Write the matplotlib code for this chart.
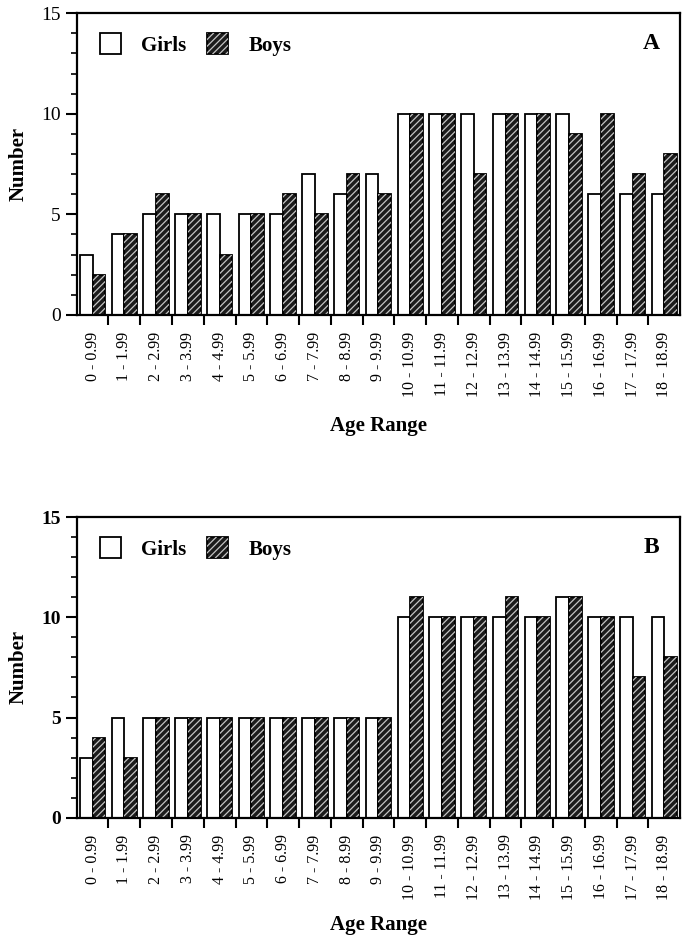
import numpy as np
import matplotlib
matplotlib.use('Agg')
import matplotlib.pyplot as plt
from matplotlib.legend_handler import HandlerTuple

plt.rcParams['font.family'] = ['Liberation Serif', 'DejaVu Serif']
plt.rcParams['hatch.linewidth'] = 0.9

ages = ['0 - 0.99', '1 - 1.99', '2 - 2.99', '3 - 3.99', '4 - 4.99', '5 - 5.99',
        '6 - 6.99', '7 - 7.99', '8 - 8.99', '9 - 9.99', '10 - 10.99', '11 - 11.99',
        '12 - 12.99', '13 - 13.99', '14 - 14.99', '15 - 15.99', '16 - 16.99',
        '17 - 17.99', '18 - 18.99']

girls_a = [3, 4, 5, 5, 5, 5, 5, 7, 6, 7, 10, 10, 10, 10, 10, 10, 6, 6, 6]
boys_a = [2, 4, 6, 5, 3, 5, 6, 5, 7, 6, 10, 10, 7, 10, 10, 9, 10, 7, 8]

girls_b = [3, 5, 5, 5, 5, 5, 5, 5, 5, 5, 10, 10, 10, 10, 10, 11, 10, 10, 10]
boys_b = [4, 3, 5, 5, 5, 5, 5, 5, 5, 5, 11, 10, 10, 11, 10, 11, 10, 7, 8]

fig = plt.figure(figsize=(6.85, 9.40), dpi=100)
ax_a = fig.add_axes([0.112, 0.665, 0.881, 0.321])
ax_b = fig.add_axes([0.112, 0.130, 0.881, 0.320])


def panel(ax, girls, boys, letter, bold_ticks, xlabel_pad):
    x = np.arange(len(ages))
    w = 0.4
    g = ax.bar(x - w / 2, girls, w, facecolor='white', edgecolor='black', linewidth=1.3)
    b = ax.bar(x + w / 2, boys, w, facecolor='#1c1c1c', edgecolor='black', linewidth=1.3)
    h = ax.bar(x + w / 2, boys, w, facecolor='none', edgecolor='#c4c4c4',
               hatch='/////', linewidth=0)

    ax.set_xlim(-0.5, len(ages) - 0.5)
    ax.set_ylim(0, 15)
    ax.set_xticks(x)
    ax.set_xticklabels(ages, rotation=90, fontsize=11.5)
    ax.set_xticks(np.arange(len(ages) - 1) + 0.5, minor=True)
    ax.tick_params(axis='x', which='major', length=0, pad=12)
    ax.tick_params(axis='x', which='minor', length=7, width=1.5, direction='out')

    ax.set_yticks([0, 5, 10, 15])
    ax.set_yticks(np.arange(0, 16), minor=True)
    ax.tick_params(axis='y', which='major', length=8, width=1.5, labelsize=14)
    ax.tick_params(axis='y', which='minor', length=4, width=1.2)
    if bold_ticks:
        for t in ax.get_yticklabels():
            t.set_fontweight('bold')

    for s in ax.spines.values():
        s.set_linewidth(1.6)

    ax.set_ylabel('Number', fontsize=15, fontweight='bold', labelpad=9)
    ax.set_xlabel('Age Range', fontsize=15, fontweight='bold', labelpad=xlabel_pad)
    ax.text(0.952, 0.9, letter, transform=ax.transAxes, fontsize=17,
            fontweight='bold', ha='center', va='center')

    ax.legend([g, (b, h)], ['Girls', 'Boys'], ncol=2, loc='upper left',
              bbox_to_anchor=(0.007, 0.996), frameon=False,
              prop={'weight': 'bold', 'size': 15},
              handlelength=1.0, handleheight=1.2, handletextpad=1.0,
              columnspacing=1.0,
              handler_map={tuple: HandlerTuple(ndivide=1, pad=0)})


panel(ax_a, girls_a, boys_a, 'A', False, 14)
panel(ax_b, girls_b, boys_b, 'B', True, 11)

fig.savefig('out.png', dpi=100)
